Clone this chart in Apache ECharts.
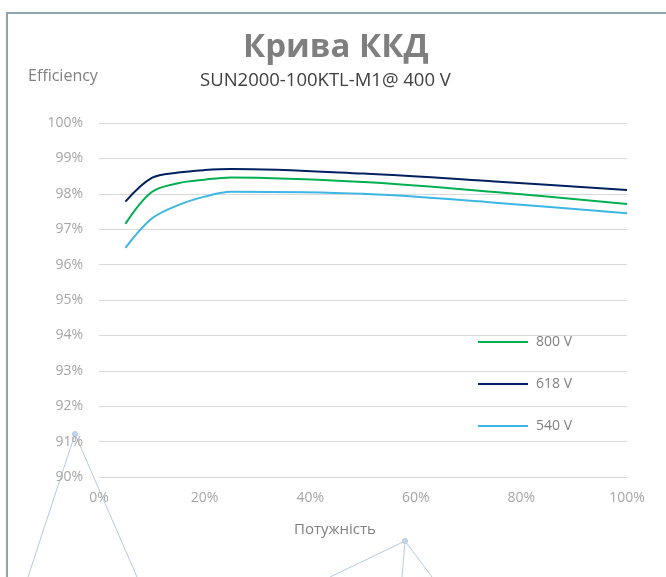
<!DOCTYPE html>
<html>
<head>
<meta charset="utf-8">
<script src="https://cdn.jsdelivr.net/npm/echarts@6/dist/echarts.min.js"></script>
<style>
  html, body { margin: 0; padding: 0; background: #fff; }
  #chart { width: 666px; height: 577px; }
</style>
</head>
<body>
<div id="chart"></div>
<script>
// load in % of rated power
var loads = [5, 10, 15, 20, 25, 50, 75, 100];
var eff800 = [97.15, 98.05, 98.3, 98.4, 98.46, 98.33, 98.05, 97.71];
var eff618 = [97.78, 98.45, 98.6, 98.67, 98.7, 98.57, 98.35, 98.11];
var eff540 = [96.47, 97.3, 97.68, 97.92, 98.06, 98.0, 97.75, 97.45];
var seriesNames = ['800 V', '618 V', '540 V'];
var seriesColors = ['#00b050', '#002060', '#3db6e4'];

function pairs(ys) {
    return loads.map(function (x, i) { return [x, ys[i]]; });
}

var font = 'Open Sans';
var allData = [eff800, eff618, eff540];

var option = {
    animation: false,
    title: [
        {
            text: 'Крива ККД',
            left: 238,
            top: 26,
            textStyle: { fontFamily: font, fontSize: 33, fontWeight: 'bold', color: '#7f7f7f' }
        },
        {
            text: 'SUN2000-100KTL-M1@ 400 V',
            left: 195,
            top: 66,
            textStyle: { fontFamily: font, fontSize: 18.5, fontWeight: 'normal', color: '#404040' }
        },
        {
            text: 'Efficiency',
            left: 23,
            top: 63,
            textStyle: { fontFamily: font, fontSize: 16, fontWeight: 'normal', color: '#808080' }
        }
    ],
    legend: {
        data: seriesNames,
        orient: 'vertical',
        left: 473,
        top: 329,
        itemWidth: 50,
        itemHeight: 2,
        itemGap: 26,
        icon: 'rect',
        textStyle: { fontFamily: font, fontSize: 14, color: '#808080', lineHeight: 16, padding: [0, 0, 0, 3] }
    },
    grid: {
        left: 99,
        right: 39,
        top: 123,
        bottom: 100
    },
    xAxis: {
        type: 'value',
        min: 0,
        max: 100,
        interval: 20,
        name: 'Потужність',
        nameLocation: 'middle',
        nameGap: 45,
        nameTextStyle: { fontFamily: font, fontSize: 15, color: '#808080', padding: [0, 56, 0, 0] },
        axisLine: { show: false },
        axisTick: { show: false },
        splitLine: { show: false },
        axisLabel: {
            formatter: '{value}%',
            margin: 14,
            fontFamily: font, fontSize: 14, color: '#a6a6a6'
        }
    },
    yAxis: {
        type: 'value',
        min: 90,
        max: 100,
        interval: 1,
        axisLine: { show: false },
        axisTick: { show: false },
        splitLine: { lineStyle: { color: '#d9d9d9', width: 1 } },
        axisLabel: {
            formatter: '{value}%',
            margin: 16,
            fontFamily: font, fontSize: 14, color: '#a6a6a6'
        }
    },
    series: seriesNames.map(function (name, i) {
        return {
            name: name,
            type: 'line',
            smooth: 0.35,
            showSymbol: false,
            color: seriesColors[i],
            lineStyle: { width: 2, color: seriesColors[i] },
            data: pairs(allData[i])
        };
    }),
    graphic: [
        // frame
        {
            type: 'polyline', silent: true,
            shape: { points: [[7, 577], [7, 13], [666, 13]] },
            style: { stroke: '#8fa3b1', lineWidth: 2, fill: null }
        },
        // stray connector lines seen in the source
        {
            type: 'polyline', silent: true,
            shape: { points: [[28, 577], [75, 434], [137, 577]] },
            style: { stroke: '#b4c8e6', lineWidth: 1, fill: null }
        },
        {
            type: 'circle', silent: true,
            shape: { cx: 75, cy: 434, r: 2.5 },
            style: { fill: '#c7d6ee', stroke: '#b4c8e6' }
        },
        {
            type: 'polyline', silent: true,
            shape: { points: [[330, 577], [405, 541], [432, 577]] },
            style: { stroke: '#b4c8e6', lineWidth: 1, fill: null }
        },
        {
            type: 'line', silent: true,
            shape: { x1: 405, y1: 541, x2: 402, y2: 577 },
            style: { stroke: '#b4c8e6', lineWidth: 1 }
        },
        {
            type: 'circle', silent: true,
            shape: { cx: 405, cy: 541, r: 2.5 },
            style: { fill: '#c7d6ee', stroke: '#b4c8e6' }
        }
    ]
};

var chart = echarts.init(document.getElementById('chart'));
chart.setOption(option);
</script>
</body>
</html>
